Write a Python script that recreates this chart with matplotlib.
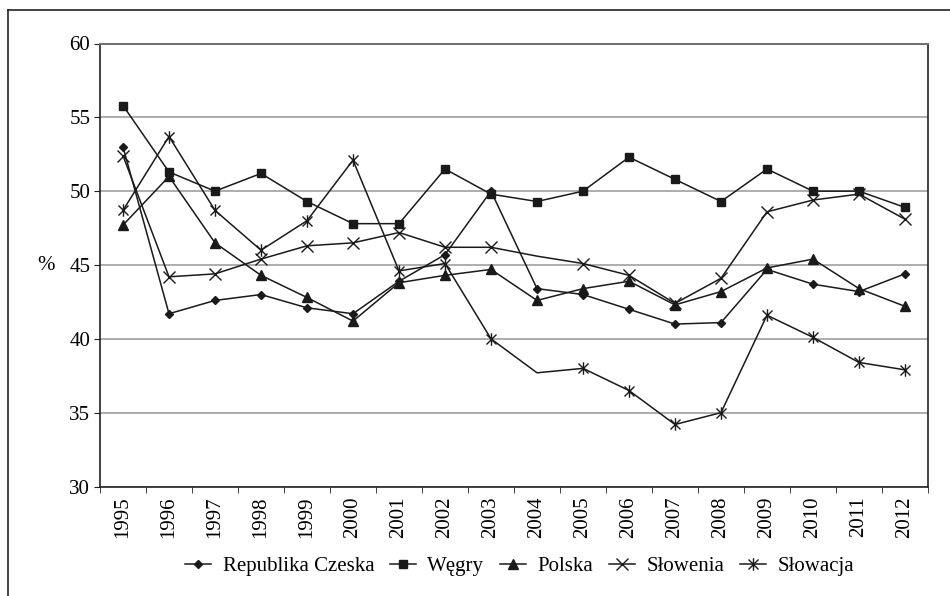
import numpy as np
import matplotlib
matplotlib.use("Agg")
import matplotlib.pyplot as plt
from matplotlib.path import Path
from matplotlib.lines import Line2D

plt.rcParams['font.family'] = ['Liberation Serif', 'DejaVu Serif']

years = [str(y) for y in range(1995, 2013)]

czechy = [53.0, 41.7, 42.6, 43.0, 42.1, 41.7, 43.9, 45.7, 50.0, 43.4,
          43.0, 42.0, 41.0, 41.1, 44.7, 43.7, 43.2, 44.4]
wegry = [55.8, 51.3, 50.0, 51.2, 49.3, 47.8, 47.8, 51.5, 49.8, 49.3,
         50.0, 52.3, 50.8, 49.3, 51.5, 50.0, 50.0, 48.9]
polska = [47.7, 51.0, 46.5, 44.3, 42.8, 41.2, 43.8, 44.3, 44.7, 42.6,
          43.4, 43.9, 42.3, 43.2, 44.8, 45.4, 43.4, 42.2]
slowenia = [52.4, 44.2, 44.4, 45.4, 46.3, 46.5, 47.2, 46.2, 46.2, 45.6,
            45.1, 44.3, 42.4, 44.1, 48.6, 49.4, 49.8, 48.1]
slowacja = [48.7, 53.7, 48.7, 46.0, 48.0, 52.1, 44.6, 45.1, 40.0, 37.7,
            38.0, 36.5, 34.2, 35.0, 41.6, 40.1, 38.4, 37.9]

labels = ['Republika Czeska', 'Węgry', 'Polska', 'Słowenia', 'Słowacja']

# Excel-style star: X plus vertical bar
star = Path([(-1, -1), (1, 1), (-1, 1), (1, -1), (0, -1.25), (0, 1.25)],
            [Path.MOVETO, Path.LINETO, Path.MOVETO, Path.LINETO,
             Path.MOVETO, Path.LINETO])

fig = plt.figure(figsize=(9.5, 5.96), dpi=100)
ax = fig.add_axes([100 / 950, 1 - 486.5 / 596, 828 / 950, 443 / 596])

# outer chart frame (left and top edges visible)
fig.add_artist(Line2D([8 / 950, 8 / 950], [0, 1 - 10 / 596],
                      transform=fig.transFigure, color='#222222', lw=1.2))
fig.add_artist(Line2D([8 / 950, 1], [1 - 10 / 596, 1 - 10 / 596],
                      transform=fig.transFigure, color='#222222', lw=1.2))

x = np.arange(len(years))
no2004 = [i for i in range(len(years)) if years[i] != '2004']
dark = '#1a1a1a'

series = [
    (czechy, dict(marker='D', markersize=4.5), None),
    (wegry, dict(marker='s', markersize=6), None),
    (polska, dict(marker='^', markersize=6.5), None),
    (slowenia, dict(marker='x', markersize=8, markeredgewidth=1.0), no2004),
    (slowacja, dict(marker=star, markersize=9, markeredgewidth=1.0), no2004),
]
for (vals, mk, every), lab in zip(series, labels):
    ax.plot(x, vals, color=dark, lw=1.1, markerfacecolor=dark,
            markeredgecolor=dark, markevery=every, label=lab, **mk)

ax.set_xlim(-0.5, len(years) - 0.5)
ax.set_ylim(30, 60)
ax.set_yticks(np.arange(30, 61, 5))
ax.yaxis.grid(True, color='#a0a0a0', lw=1.2)
ax.set_axisbelow(True)

ax.set_xticks(x)
ax.set_xticklabels(years, rotation=90, fontsize=15)
ax.set_xticks(np.arange(-0.5, len(years), 1), minor=True)
ax.tick_params(axis='x', which='major', length=0, pad=7)
ax.tick_params(axis='x', which='minor', length=4, direction='out', color='#222222')
ax.tick_params(axis='y', length=4, direction='out', pad=3, labelsize=15,
               color='#222222')

for side in ['left', 'bottom', 'right']:
    ax.spines[side].set_color('#222222')
    ax.spines[side].set_linewidth(1.2)
ax.spines['top'].set_color('#707070')
ax.spines['top'].set_linewidth(1.4)

ax.set_ylabel('%', rotation=0, fontsize=15, ha='center', va='center')
ax.yaxis.set_label_coords(-0.065, 0.5)

fig.legend(loc='center', bbox_to_anchor=(0.547, 1 - 566 / 596), ncol=5,
           frameon=False, fontsize=15, handlelength=1.25,
           handletextpad=0.55, columnspacing=0.75, borderaxespad=0)

fig.savefig('out.png', dpi=100)
